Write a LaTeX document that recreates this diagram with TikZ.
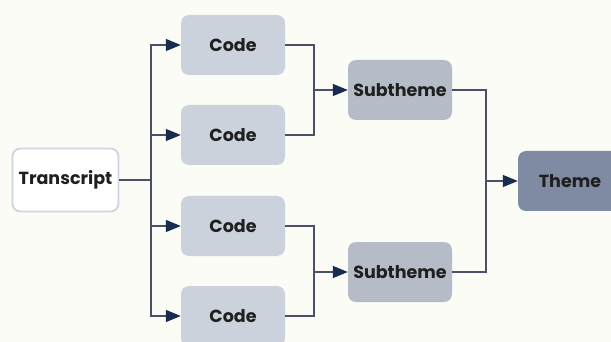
\documentclass[tikz,border=0pt]{standalone}
\usepackage{fontspec}
\setmainfont{Poppins}
\usetikzlibrary{arrows.meta}
\definecolor{bgcol}{HTML}{FCFCF7}
\definecolor{codecol}{HTML}{CBD2DC}
\definecolor{subcol}{HTML}{B6BBC8}
\definecolor{themecol}{HTML}{7F8BA3}
\definecolor{edgecol}{HTML}{CDD5E0}
\definecolor{linecol}{HTML}{4A5068}
\definecolor{tipcol}{HTML}{172C4E}
\begin{document}
\begin{tikzpicture}[x=1pt, y=-1pt,
    box/.style={rounded corners=8pt, minimum width=104pt, minimum height=60pt,
        inner sep=0pt, font=\bfseries\fontsize{17.5}{20}\selectfont, text=black!88},
    link/.style={linecol, line width=1.4pt},
    arr/.style={link, -{Triangle[length=15pt, width=12pt, color=tipcol, fill=tipcol]}}]
    \fill[bgcol] (0,0) rectangle (611,342);
    \useasboundingbox (0,0) rectangle (611,342);
    \node[box, fill=white, draw=edgecol, line width=1.8pt, minimum width=106pt, minimum height=63pt]
        (transcript) at (65.5,180) {Transcript};
    \foreach \i/\y in {1/45, 2/135, 3/226, 4/316} {
        \node[box, fill=codecol] (code\i) at (233,\y) {Code};
    }
    \node[box, fill=subcol] (sub1) at (400,90) {Subtheme};
    \node[box, fill=subcol] (sub2) at (400,272) {Subtheme};
    \node[box, fill=themecol] (theme) at (570,181) {Theme};
    \coordinate (j1) at (151,180);
    \coordinate (j2) at (314,90);
    \coordinate (j3) at (314,272);
    \coordinate (j4) at (486,181);
    \draw[link] (transcript) -- (j1);
    \foreach \i in {1,...,4} {
        \draw[arr] (j1) |- (code\i);
    }
    \draw[link] (code1) -| (j2);
    \draw[link] (code2) -| (j2);
    \draw[arr] (j2) -- (sub1);
    \draw[link] (code3) -| (j3);
    \draw[link] (code4) -| (j3);
    \draw[arr] (j3) -- (sub2);
    \draw[link] (sub1) -| (j4);
    \draw[link] (sub2) -| (j4);
    \draw[arr] (j4) -- (theme);
\end{tikzpicture}
\end{document}
